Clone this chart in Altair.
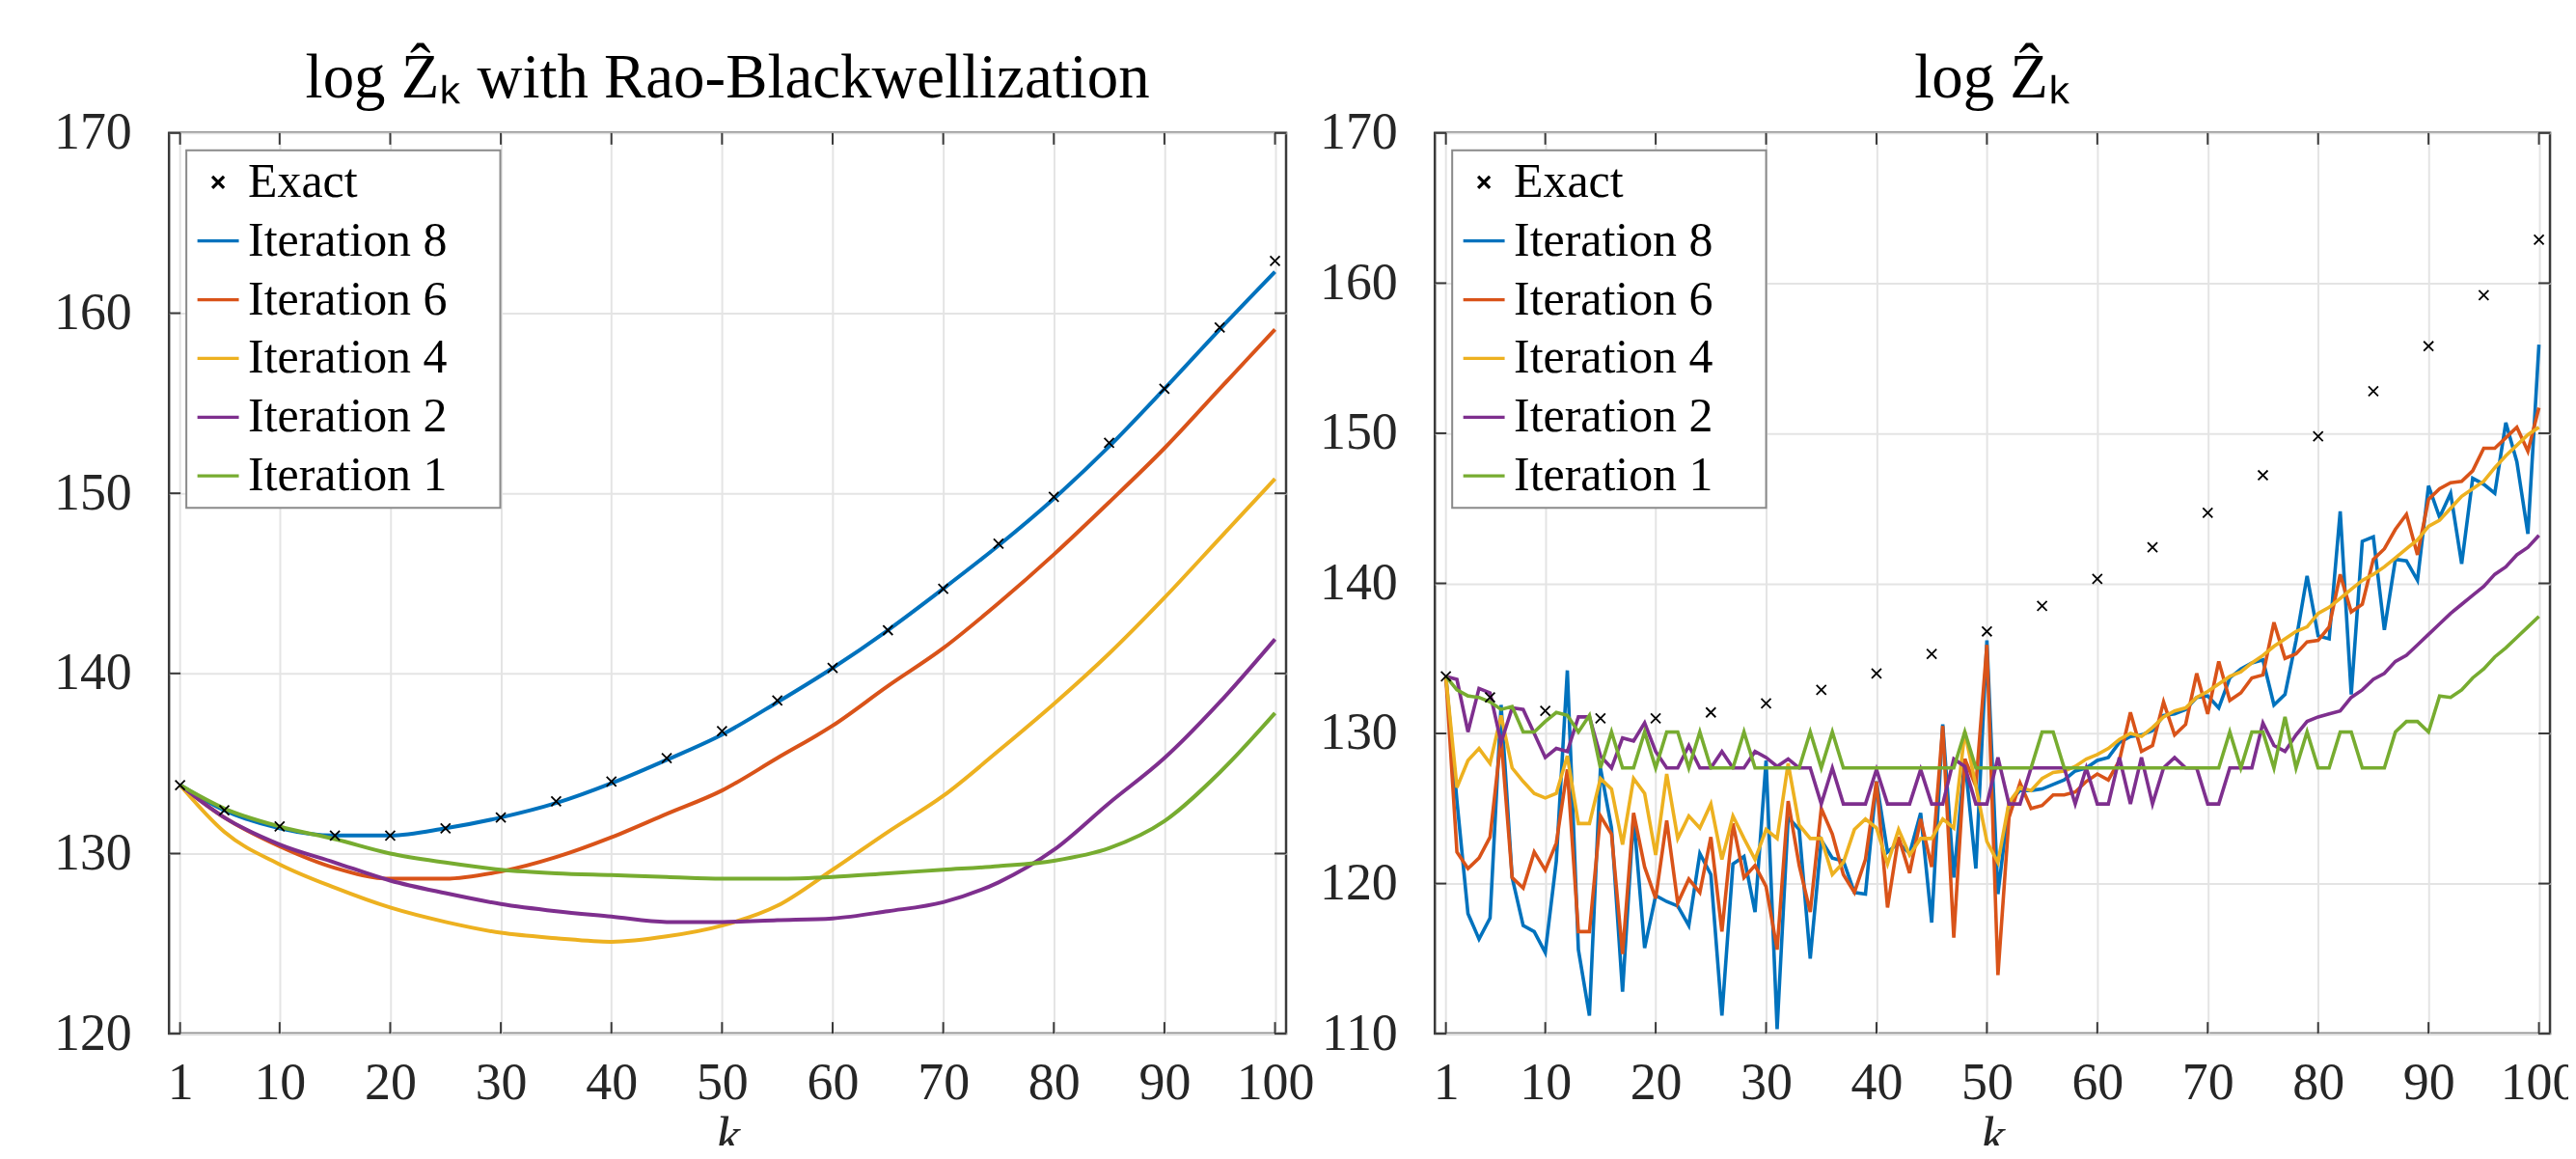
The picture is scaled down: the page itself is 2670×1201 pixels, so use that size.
import altair as alt
import pandas as pd

# ---------------- data ----------------
series_names = ["Exact", "Iteration 8", "Iteration 6", "Iteration 4", "Iteration 2", "Iteration 1"]
series_colors = ["#000000", "#0072BD", "#D95319", "#EDB120", "#7E2F8E", "#77AC30"]

k_sparse = [1, 5, 10, 15, 20, 25, 30, 35, 40, 45, 50, 55, 60, 65, 70, 75, 80, 85, 90, 95, 100]
exact_vals = [133.8, 132.4, 131.5, 131.0, 131.0, 131.4, 132.0, 132.9, 134.0, 135.3, 136.8,
              138.5, 140.3, 142.4, 144.7, 147.2, 149.8, 152.8, 155.8, 159.2, 162.9]

# Left panel (Rao-Blackwellized), read at k_sparse
rb_iter8 = [133.8, 132.4, 131.4, 131.0, 131.0, 131.4, 132.0, 132.8, 133.9, 135.2, 136.6,
            138.4, 140.3, 142.4, 144.7, 147.1, 149.7, 152.6, 155.8, 159.1, 162.3]
rb_iter6 = [133.8, 132.0, 130.4, 129.2, 128.6, 128.6, 129.0, 129.8, 130.9, 132.2, 133.5,
            135.3, 137.1, 139.3, 141.4, 143.9, 146.6, 149.5, 152.5, 155.8, 159.1]
rb_iter4 = [133.8, 131.2, 129.4, 128.1, 127.0, 126.2, 125.6, 125.3, 125.1, 125.4, 126.0,
            127.1, 129.1, 131.2, 133.2, 135.7, 138.3, 141.1, 144.2, 147.5, 150.8]
rb_iter2 = [133.8, 132.0, 130.5, 129.5, 128.5, 127.8, 127.2, 126.8, 126.5, 126.2, 126.2,
            126.3, 126.4, 126.8, 127.3, 128.4, 130.2, 132.8, 135.3, 138.4, 141.9]
rb_iter1 = [133.8, 132.5, 131.5, 130.8, 130.0, 129.5, 129.1, 128.9, 128.8, 128.7, 128.6,
            128.6, 128.7, 128.9, 129.1, 129.3, 129.6, 130.3, 131.8, 134.5, 137.8]

# Right panel (plain estimator), k = 1..100
k_full = list(range(1, 101))
iter8 = [133.8, 125.5, 118.0, 116.3, 117.7, 131.9, 120.4, 117.2, 116.8, 115.4,
         121.5, 134.2, 115.6, 111.2, 127.7, 123.7, 112.8, 124.5, 115.7, 119.2,
         118.8, 118.5, 117.2, 122.0, 120.6, 111.2, 121.3, 121.8, 118.1, 128.2,
         110.3, 124.4, 123.6, 115.0, 122.9, 121.7, 121.5, 119.4, 119.3, 126.8,
         122.1, 122.7, 122.0, 124.7, 117.4, 130.6, 120.4, 128.3, 121.0, 136.2,
         119.3, 125.4, 126.2, 126.2, 126.3, 126.6, 126.9, 127.5, 127.7, 128.2,
         128.4, 129.4, 129.8, 129.9, 130.2, 131.2, 131.3, 131.6, 132.4, 132.5,
         131.7, 133.7, 134.3, 134.7, 134.9, 131.9, 132.6, 136.2, 140.5, 136.5,
         136.3, 144.8, 132.6, 142.8, 143.1, 136.9, 141.6, 141.5, 140.2, 146.5,
         144.4, 146.0, 141.3, 147.0, 146.6, 146.0, 150.7, 148.1, 143.3, 155.9]
iter6 = [133.8, 122.1, 121.0, 121.7, 123.1, 129.7, 120.4, 119.7, 122.1, 120.9,
         122.7, 127.6, 116.8, 116.8, 124.5, 123.3, 115.3, 124.7, 121.1, 119.0,
         124.2, 118.7, 120.3, 119.4, 123.1, 116.8, 124.0, 120.4, 121.2, 119.8,
         115.6, 125.5, 121.2, 118.1, 125.0, 123.3, 120.6, 119.4, 121.6, 126.8,
         118.4, 123.1, 120.7, 124.3, 121.1, 130.5, 116.4, 128.3, 126.5, 135.9,
         113.9, 124.4, 126.7, 125.0, 125.2, 125.9, 125.9, 126.1, 126.8, 127.3,
         126.9, 128.2, 131.4, 128.8, 129.2, 132.1, 129.9, 130.6, 134.0, 131.3,
         134.8, 132.2, 132.7, 133.7, 133.9, 137.4, 135.0, 135.3, 136.1, 136.2,
         137.1, 140.6, 138.1, 138.6, 141.6, 142.3, 143.6, 144.6, 141.9, 145.6,
         146.3, 146.7, 146.8, 147.5, 149.0, 149.0, 149.7, 150.4, 148.8, 151.7]
iter4 = [133.8, 126.4, 128.2, 129.0, 128.0, 131.2, 127.7, 126.8, 126.0, 125.7,
         126.0, 128.5, 124.0, 124.0, 127.0, 126.3, 122.6, 127.0, 126.0, 121.9,
         127.3, 123.0, 124.5, 123.7, 125.3, 121.6, 124.5, 123.0, 121.6, 123.6,
         123.0, 128.0, 123.9, 123.0, 123.0, 120.6, 121.4, 123.6, 124.3, 123.7,
         121.3, 123.6, 121.9, 123.0, 123.0, 124.3, 123.7, 130.1, 126.5, 122.8,
         121.4, 125.4, 126.4, 126.2, 127.0, 127.4, 127.5, 127.8, 128.3, 128.6,
         129.0, 129.6, 130.0, 129.8, 130.4, 131.1, 131.5, 131.7, 132.4, 132.8,
         133.3, 133.8, 134.1, 134.7, 135.2, 135.8, 136.3, 136.8, 137.1, 138.0,
         138.4, 139.0, 139.6, 140.2, 140.6, 141.1, 141.7, 142.3, 142.9, 143.8,
         144.2, 145.0, 145.8, 146.3, 146.8, 147.7, 148.5, 149.2, 149.9, 150.4]
iter2 = [133.8, 133.6, 130.1, 133.0, 132.7, 129.4, 131.7, 131.6, 130.0, 128.4,
         129.0, 128.8, 131.1, 131.1, 128.5, 127.7, 129.7, 129.5, 130.7, 128.8,
         127.7, 127.7, 129.2, 127.7, 127.7, 128.8, 127.7, 127.7, 128.8, 128.4,
         127.8, 128.3, 127.7, 127.7, 125.3, 127.7, 125.3, 125.3, 125.3, 127.6,
         125.3, 125.3, 125.3, 127.6, 125.3, 125.3, 128.3, 127.8, 125.3, 125.3,
         128.4, 125.3, 125.3, 127.7, 127.7, 127.7, 127.7, 125.3, 127.7, 125.3,
         125.3, 128.4, 125.3, 128.4, 125.3, 127.7, 128.4, 127.7, 127.7, 125.3,
         125.3, 127.7, 127.7, 127.7, 130.7, 129.2, 128.8, 129.9, 130.8, 131.1,
         131.3, 131.5, 132.4, 132.9, 133.6, 134.0, 134.8, 135.2, 135.9, 136.6,
         137.3, 138.0, 138.6, 139.2, 139.8, 140.6, 141.1, 141.9, 142.4, 143.2]
iter1 = [133.8, 132.9, 132.5, 132.4, 132.1, 131.6, 131.8, 130.1, 130.1, 130.8,
         131.4, 131.2, 130.1, 131.2, 127.7, 130.1, 127.7, 127.7, 130.1, 127.7,
         130.1, 130.1, 127.7, 130.1, 127.7, 127.7, 127.7, 130.1, 127.7, 127.7,
         127.7, 127.7, 127.7, 130.1, 127.7, 130.1, 127.7, 127.7, 127.7, 127.7,
         127.7, 127.7, 127.7, 127.7, 127.7, 127.7, 127.7, 130.1, 127.7, 127.7,
         127.7, 127.7, 127.7, 127.7, 130.1, 130.1, 127.7, 127.7, 127.7, 127.7,
         127.7, 127.7, 127.7, 127.7, 127.7, 127.7, 127.7, 127.7, 127.7, 127.7,
         127.7, 130.1, 127.7, 130.1, 130.1, 127.7, 131.1, 127.7, 130.1, 127.7,
         127.7, 130.1, 130.1, 127.7, 127.7, 127.7, 130.1, 130.8, 130.8, 130.1,
         132.5, 132.4, 132.9, 133.7, 134.3, 135.1, 135.7, 136.4, 137.1, 137.8]

x_ticks = [1, 10, 20, 30, 40, 50, 60, 70, 80, 90, 100]
y_ticks_left = [120, 130, 140, 150, 160, 170]
y_ticks_right = [110, 120, 130, 140, 150, 160, 170]

title_left = "log Z\u0302\u2096 with Rao-Blackwellization"
title_right = "log Z\u0302\u2096"

# ---------------- tables ----------------
def long_table(ks, named):
    rows = []
    for name, vals in named:
        for k, v in zip(ks, vals):
            rows.append({"k": k, "v": v, "series": name})
    return pd.DataFrame(rows)

left_df = long_table(k_sparse, [("Iteration 8", rb_iter8), ("Iteration 6", rb_iter6),
                                ("Iteration 4", rb_iter4), ("Iteration 2", rb_iter2),
                                ("Iteration 1", rb_iter1)])
right_df = long_table(k_full, [("Iteration 8", iter8), ("Iteration 6", iter6),
                               ("Iteration 4", iter4), ("Iteration 2", iter2),
                               ("Iteration 1", iter1)])
exact_df = long_table(k_sparse, [("Exact", exact_vals)])

FONT = "Liberation Serif"
AX = "#3a3a3a"
X_PATH = "M-0.28,-0.28L0.28,0.28M-0.28,0.28L0.28,-0.28"
shape_range = [X_PATH, "stroke", "stroke", "stroke", "stroke", "stroke"]
PAD = "\u2009\u2800"   # thin space + blank glyph to widen the legend box


def panel(df, y_domain, y_ticks, title, W, H, interp, sw):
    xs = alt.Scale(domain=[0, 101], nice=False, zero=False)
    ys = alt.Scale(domain=y_domain, nice=False, zero=False)
    xax = alt.Axis(values=x_ticks, title="k", grid=True, ticks=False, tickSize=0, domain=False,
                   labelPadding=25, titlePadding=1, format="d")
    yax = alt.Axis(values=y_ticks, title=None, grid=True, ticks=False, tickSize=0, domain=False,
                   labelPadding=39, format="d")
    leg = alt.Legend(orient="top-left", offset=18, title=None, labelFont=FONT, labelFontSize=50,
                     labelColor="#000000", symbolSize=1849, symbolStrokeWidth=3.2,
                     fillColor="white", strokeColor="#8a8a8a", padding=8, rowPadding=11,
                     labelOffset=6, cornerRadius=0, labelLimit=800,
                     labelExpr="datum.label + '" + PAD + "'")
    color = alt.Color("series:N", scale=alt.Scale(domain=series_names, range=series_colors), legend=leg)
    shape = alt.Shape("series:N", scale=alt.Scale(domain=series_names, range=shape_range), legend=leg)
    X = lambda f: alt.X(f, scale=xs, axis=xax)
    Y = lambda f: alt.Y(f, scale=ys, axis=yax)

    lines = alt.Chart(df).mark_line(strokeWidth=sw, interpolate=interp).encode(
        x=X("k:Q"), y=Y("v:Q"), color=color)
    pts = alt.Chart(exact_df).mark_point(filled=False, size=1276, strokeWidth=1.8, opacity=1).encode(
        x=X("k:Q"), y=Y("v:Q"), color=color, shape=shape)

    xt = pd.DataFrame({"t": x_ticks})
    yt = pd.DataFrame({"t": y_ticks})
    tb = alt.Chart(xt).mark_rule(color=AX, strokeWidth=2).encode(
        x=X("t:Q"), y=alt.value(H), y2=alt.value(H - 12))
    tt = alt.Chart(xt).mark_rule(color=AX, strokeWidth=2).encode(
        x=X("t:Q"), y=alt.value(0), y2=alt.value(12))
    tl = alt.Chart(yt).mark_rule(color=AX, strokeWidth=2).encode(
        y=Y("t:Q"), x=alt.value(0), x2=alt.value(12))
    tr = alt.Chart(yt).mark_rule(color=AX, strokeWidth=2).encode(
        y=Y("t:Q"), x=alt.value(W - 12), x2=alt.value(W))

    return alt.layer(tb, tt, tl, tr, lines, pts).properties(
        width=W, height=H,
        title=alt.Title(title, font=FONT, fontSize=65, fontWeight="normal", color="#000000",
                        anchor="middle", frame="group", baseline="alphabetic", offset=-55))


left = panel(left_df, [120, 170], y_ticks_left, title_left, 1160, 935, "monotone", 4)
right = panel(right_df, [110, 170], y_ticks_right, title_right, 1158, 935, "linear", 3.6)

chart = alt.hconcat(left, right, spacing=154.5, bounds="flush").resolve_scale(
    x="independent", y="independent", color="independent", shape="independent"
).resolve_legend(color="independent", shape="independent").properties(
    padding={"left": 45.5, "top": 38, "right": -11.5, "bottom": -22}
).configure_view(stroke=AX, strokeWidth=2.5).configure_axis(
    labelFont=FONT, labelFontSize=54, labelColor="#262626", gridColor="#e4e4e4", gridWidth=2,
    titleFont=FONT, titleFontSize=56, titleFontStyle="italic", titleFontWeight="normal",
    titleColor="#262626", labelFlush=False, labelOverlap=False
).configure_legend(strokeWidth=2)

chart.save("out.html", embed_options={"renderer": "svg", "actions": False})
